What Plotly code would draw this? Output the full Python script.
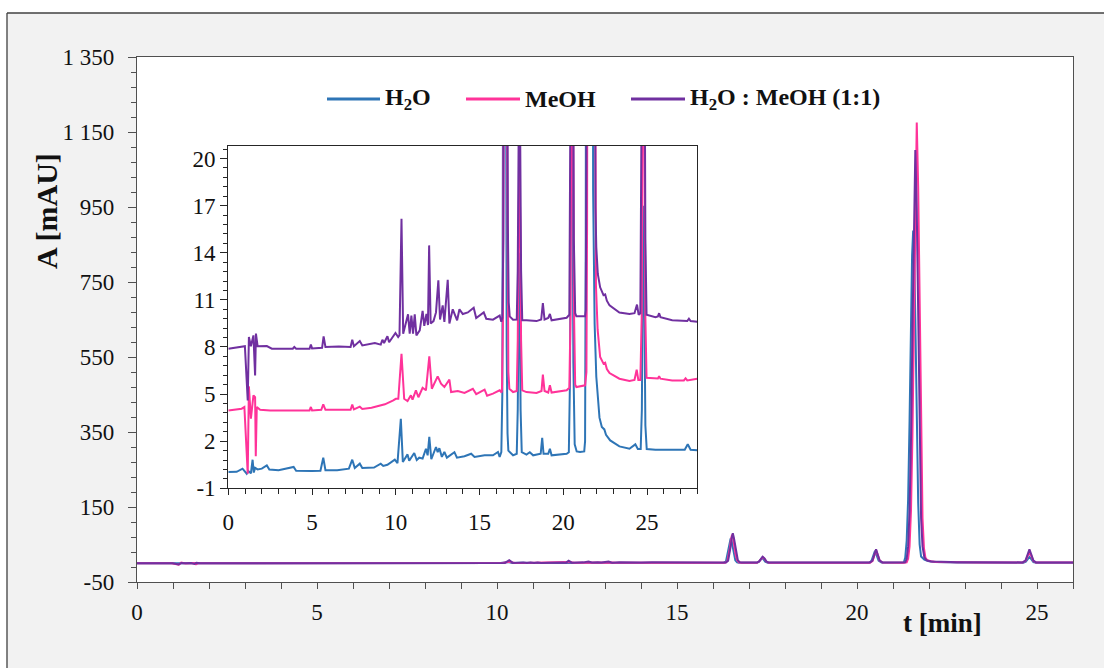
import plotly.graph_objects as go

# ---------------- data (t [min], A [mAU]) ----------------
h2o = [
    (0.0, 0.04), (0.5, 0.05), (0.85, 0.25), (0.95, 0.1), (1.1, -0.07), (1.2, 0.1), (1.35, -0.05),
    (1.45, 0.82), (1.52, 0.0), (1.6, 0.3), (1.75, 0.2), (2.0, 0.25), (2.3, 0.46), (2.45, 0.2),
    (3.0, 0.15), (3.9, 0.36), (4.05, 0.12), (5.0, 0.1), (5.5, 0.12), (5.67, 0.95), (5.8, 0.15),
    (6.5, 0.15), (7.2, 0.25), (7.4, 0.82), (7.55, 0.3), (7.85, 0.57), (8.0, 0.3), (8.7, 0.32),
    (9.1, 0.57), (9.25, 0.42), (9.5, 0.5), (9.94, 0.82), (10.1, 0.6), (10.3, 3.43), (10.42, 0.68),
    (10.7, 1.16), (10.8, 0.75), (11.1, 1.25), (11.25, 0.8), (11.4, 0.95), (11.6, 0.9), (11.8, 1.52),
    (11.9, 1.1), (12.0, 2.27), (12.12, 0.85), (12.4, 1.63), (12.5, 1.3), (12.6, 1.55), (12.75, 1.0),
    (12.9, 1.31), (13.05, 0.95), (13.5, 1.3), (13.65, 0.95), (14.1, 1.04), (14.5, 1.2), (14.7, 1.0),
    (15.3, 1.1), (15.8, 1.1), (16.1, 1.31), (16.2, 1.0),
    (16.30, 1.3), (16.36, 5.0), (16.39, 20.0), (16.43, 40.0), (16.46, 58.0), (16.49, 66.0),
    (16.52, 58.0), (16.55, 40.0), (16.59, 20.0), (16.62, 8.0), (16.67, 2.5), (16.72, 1.4),
    (17.0, 1.1), (17.22, 1.2), (17.28, 4.0), (17.33, 11.0), (17.36, 14.0), (17.40, 11.0),
    (17.45, 4.0), (17.52, 1.3), (17.8, 1.15), (18.0, 1.3), (18.2, 1.1), (18.65, 1.2), (18.74, 2.22),
    (18.82, 1.2), (19.1, 1.2), (19.2, 1.52), (19.3, 1.1), (20.2, 1.2),
    (20.33, 1.3), (20.4, 6.0), (20.45, 20.0), (20.5, 33.0), (20.55, 20.0), (20.6, 7.0), (20.68, 1.8),
    (20.8, 1.35), (21.0, 1.31), (21.25, 1.35),
    (21.30, 2.0), (21.34, 15.0), (21.38, 60.0), (21.42, 170.0), (21.46, 380.0), (21.50, 650.0),
    (21.53, 820.0), (21.56, 887.0), (21.59, 820.0), (21.62, 650.0), (21.66, 380.0), (21.70, 160.0),
    (21.74, 50.0), (21.78, 18.0), (21.87, 9.5), (21.97, 6.1), (22.16, 3.5), (22.3, 2.9),
    (22.45, 2.75), (22.55, 2.4), (22.8, 2.05), (23.35, 1.67), (23.95, 1.52), (24.3, 1.8),
    (24.45, 1.5), (24.62, 1.5), (24.69, 4.0), (24.74, 12.0), (24.79, 17.0), (24.84, 11.0),
    (24.9, 3.0), (24.98, 1.5), (25.5, 1.45), (26.5, 1.45), (27.25, 1.45), (27.43, 1.8),
    (27.6, 1.45), (28.0, 1.42),
]

meoh = [
    (0.0, 0.06), (0.8, 0.17), (0.96, 0.28), (1.16, -3.97), (1.23, 1.59), (1.35, -0.47), (1.5, 1.02),
    (1.6, 0.91), (1.64, -2.86), (1.7, 0.28), (1.9, 0.1), (2.5, 0.06), (3.5, 0.06), (4.85, 0.06),
    (4.93, 0.28), (5.0, 0.06), (5.55, 0.1), (5.67, 0.45), (5.8, 0.1), (6.6, 0.1), (7.3, 0.1),
    (7.4, 0.43), (7.5, 0.12), (7.85, 0.3), (8.0, 0.15), (8.55, 0.23), (9.35, 0.45), (9.85, 0.7),
    (10.0, 0.8), (10.15, 0.8), (10.34, 3.67), (10.5, 0.8), (10.7, 0.66), (10.9, 1.02), (11.0, 0.75),
    (11.2, 1.34), (11.35, 0.9), (11.6, 1.5), (11.8, 1.34), (12.0, 3.5), (12.15, 1.44), (12.5, 2.23),
    (12.7, 1.76), (12.9, 1.55), (13.2, 2.02), (13.3, 1.23), (13.7, 1.3), (14.1, 1.17), (14.6, 1.44),
    (14.8, 1.1), (15.3, 1.38), (15.45, 1.0), (15.8, 1.13), (16.2, 1.34), (16.32, 1.2),
    (16.34, 1.5), (16.40, 6.0), (16.44, 22.0), (16.48, 46.0), (16.50, 64.0), (16.53, 76.0),
    (16.56, 66.0), (16.59, 46.0), (16.63, 22.0), (16.67, 8.0), (16.72, 2.5), (16.78, 1.44),
    (17.0, 1.23), (17.22, 1.3), (17.28, 4.5), (17.33, 12.0), (17.38, 16.0), (17.43, 12.0),
    (17.48, 4.5), (17.55, 1.34), (17.8, 1.23), (18.4, 1.17), (18.7, 1.3), (18.78, 2.34),
    (18.88, 1.3), (19.1, 1.2), (19.2, 1.66), (19.3, 1.2), (20.2, 1.34),
    (20.36, 1.5), (20.43, 6.0), (20.48, 20.0), (20.53, 35.0), (20.58, 21.0), (20.63, 7.0),
    (20.71, 1.7), (20.78, 1.55), (21.3, 1.66),
    (21.38, 2.5), (21.42, 12.0), (21.46, 45.0), (21.50, 140.0), (21.54, 340.0), (21.58, 650.0),
    (21.62, 1000.0), (21.66, 1175.0), (21.70, 1000.0), (21.74, 650.0), (21.78, 320.0),
    (21.82, 120.0), (21.86, 40.0), (21.90, 15.0), (21.95, 8.0), (22.05, 5.2), (22.2, 3.46),
    (22.4, 3.04), (22.5, 3.1), (22.6, 2.7), (22.76, 2.44), (23.35, 2.08), (23.95, 1.93),
    (24.25, 2.0), (24.38, 2.65), (24.48, 2.0), (24.6, 2.0), (24.68, 6.0), (24.74, 20.0),
    (24.79, 30.0), (24.84, 20.0), (24.9, 6.0), (24.97, 2.14), (25.5, 2.1), (25.65, 2.1),
    (25.72, 2.23), (25.8, 2.08), (26.5, 1.97), (27.2, 1.97), (27.3, 2.1), (27.4, 1.97), (28.0, 2.08),
]

mix = [
    (0.0, 0.04), (0.8, 0.15), (0.99, 0.2), (1.16, -3.25), (1.23, 0.78), (1.35, 0.2), (1.5, 0.89),
    (1.6, -1.66), (1.65, 1.0), (1.75, 0.2), (2.0, 0.2), (2.3, 0.21), (2.6, 0.04), (3.85, 0.04),
    (3.94, 0.15), (4.05, 0.04), (4.85, 0.04), (4.93, 0.3), (5.0, 0.06), (5.6, 0.1), (5.69, 0.83),
    (5.8, 0.15), (6.6, 0.18), (7.3, 0.15), (7.4, 0.61), (7.5, 0.2), (7.85, 0.53), (8.0, 0.25),
    (8.75, 0.4), (9.1, 0.3), (9.2, 0.61), (9.3, 0.4), (9.5, 0.83), (9.6, 0.45), (9.98, 1.04),
    (10.14, 0.78), (10.22, 0.9), (10.34, 8.32), (10.44, 1.0), (10.73, 2.23), (10.83, 1.0),
    (10.93, 2.15), (11.03, 1.0), (11.13, 2.23), (11.23, 0.89), (11.43, 1.21), (11.6, 2.45),
    (11.7, 1.5), (11.83, 2.25), (11.92, 1.55), (11.99, 6.62), (12.08, 1.65), (12.25, 1.8),
    (12.4, 2.35), (12.54, 4.39), (12.64, 1.9), (12.8, 2.8), (12.9, 1.75), (13.1, 4.43), (13.2, 1.65),
    (13.4, 2.55), (13.66, 1.85), (13.8, 2.55), (14.0, 2.25), (14.3, 2.35), (14.65, 2.65), (14.8, 2.0),
    (15.25, 2.35), (15.4, 1.95), (15.8, 1.89), (16.2, 2.15), (16.3, 1.75),
    (16.36, 2.0), (16.42, 7.0), (16.46, 24.0), (16.50, 50.0), (16.52, 68.0), (16.55, 80.0),
    (16.58, 68.0), (16.61, 48.0), (16.65, 22.0), (16.69, 8.0), (16.74, 3.0), (16.8, 2.1),
    (17.0, 1.89), (17.22, 1.9), (17.28, 5.0), (17.33, 13.0), (17.38, 17.3), (17.43, 13.0),
    (17.48, 5.0), (17.55, 1.85), (17.8, 1.85), (18.4, 1.8), (18.68, 1.9), (18.78, 2.95),
    (18.88, 1.9), (19.1, 2.0), (19.2, 2.25), (19.3, 1.85), (20.2, 2.01),
    (20.36, 2.2), (20.43, 7.0), (20.48, 22.0), (20.53, 37.0), (20.58, 22.0), (20.63, 7.0),
    (20.71, 2.3), (20.78, 2.1), (21.3, 2.1),
    (21.34, 2.5), (21.38, 12.0), (21.42, 45.0), (21.46, 140.0), (21.50, 330.0), (21.54, 620.0),
    (21.58, 940.0), (21.62, 1102.0), (21.66, 940.0), (21.70, 620.0), (21.74, 310.0),
    (21.78, 120.0), (21.82, 45.0), (21.87, 16.0), (21.92, 9.0), (21.97, 6.5), (22.06, 4.8),
    (22.2, 3.95), (22.4, 3.45), (22.5, 3.5), (22.6, 3.1), (22.76, 2.8), (23.35, 2.35),
    (23.95, 2.25), (24.25, 2.3), (24.4, 2.85), (24.5, 2.2), (24.6, 2.3), (24.68, 7.0),
    (24.74, 24.0), (24.79, 37.0), (24.84, 24.0), (24.9, 7.0), (24.97, 2.2), (25.5, 2.05),
    (25.65, 2.1), (25.72, 2.3), (25.8, 2.05), (26.5, 1.85), (27.4, 1.8), (27.5, 1.95),
    (27.6, 1.8), (28.0, 1.75),
]

series = [h2o, meoh, mix]
series_names = ["H<sub>2</sub>O", "MeOH", "H<sub>2</sub>O : MeOH (1:1)"]
inset_offsets = [0.0, 3.9, 7.85]          # vertical stacking used in the inset
colors = ["#2E75B6", "#FF3399", "#7030A0"]

main_y_vals = [-50, 150, 350, 550, 750, 950, 1150, 1350]
main_y_text = ["-50", "150", "350", "550", "750", "950", "1 150", "1 350"]
inset_y_vals = [-1, 2, 5, 8, 11, 14, 17, 20]
inset_y_text = ["-1", "2", "5", "8", "11", "14", "17", "20"]

# ---------------- layout geometry (pixels) ----------------
W, H = 1104, 668
L, R, T, B = 137, 1073, 57, 582
PW, PH = R - L, B - T


def px(x):
    return (x - L) / PW


def py(y):
    return (B - y) / PH


FONT = "Liberation Serif, Times New Roman, serif"
TXT = "#111111"
TICK_SIZE = 23

fig = go.Figure()

for data, name, col in zip(series, series_names, colors):
    t = [p[0] for p in data]
    a = [p[1] for p in data]
    fig.add_trace(go.Scatter(x=t, y=a, mode="lines", name=name, showlegend=False,
                             line=dict(color=col, width=2), xaxis="x", yaxis="y",
                             hoverinfo="skip"))

for data, name, col, off in zip(series, series_names, colors, inset_offsets):
    t = [p[0] for p in data]
    a = [p[1] + off for p in data]
    fig.add_trace(go.Scatter(x=t, y=a, mode="lines", name=name, showlegend=False,
                             line=dict(color=col, width=2), xaxis="x2", yaxis="y2",
                             hoverinfo="skip"))

main_ax = "#505050"
inset_ax = "#262626"

fig.update_layout(
    width=W, height=H, autosize=False,
    margin=dict(l=L, r=W - R, t=T, b=H - B, pad=0),
    paper_bgcolor="#f2f2f2", plot_bgcolor="white",
    font=dict(family=FONT, size=TICK_SIZE, color=TXT),
    showlegend=False,
    xaxis=dict(domain=[0, 1], range=[0, 26], tickmode="linear", tick0=0, dtick=5,
               ticks="outside", ticklen=6, tickwidth=1.3, tickcolor=main_ax,
               showline=True, linecolor=main_ax, linewidth=1.3, mirror=True,
               showgrid=False, zeroline=False, ticklabelstandoff=3,
               tickfont=dict(family=FONT, size=TICK_SIZE, color=TXT),
               minor=dict(tickmode="linear", tick0=0, dtick=1, ticks="outside", ticklen=6,
                          tickwidth=1.3, tickcolor=main_ax, showgrid=False)),
    yaxis=dict(domain=[0, 1], range=[-50, 1350], tickmode="array", tickvals=main_y_vals,
               ticktext=main_y_text, ticks="outside", ticklen=8, tickwidth=1.3,
               tickcolor=main_ax, showline=True, linecolor=main_ax, linewidth=1.3,
               mirror=True, showgrid=False, zeroline=False, ticklabelstandoff=9,
               tickfont=dict(family=FONT, size=TICK_SIZE, color=TXT),
               minor=dict(tickmode="linear", tick0=-50, dtick=40, ticks="outside", ticklen=5,
                          tickwidth=1.3, tickcolor=main_ax, showgrid=False)),
    xaxis2=dict(domain=[px(228.3), px(697.3)], anchor="y2", range=[0, 28],
                tickmode="linear", tick0=0, dtick=5, ticks="outside", ticklen=6,
                tickwidth=1.3, tickcolor=inset_ax, showline=True, linecolor=inset_ax,
                linewidth=1.3, mirror=True, showgrid=False, zeroline=False,
                ticklabelstandoff=7, tickfont=dict(family=FONT, size=TICK_SIZE, color=TXT),
                minor=dict(tickmode="linear", tick0=0, dtick=1, ticks="outside", ticklen=5,
                           tickwidth=1.3, tickcolor=inset_ax, showgrid=False)),
    yaxis2=dict(domain=[py(488.3), py(146)], anchor="x2", range=[-1, 20.8],
                tickmode="array", tickvals=inset_y_vals, ticktext=inset_y_text,
                ticks="outside", ticklen=7, tickwidth=1.3, tickcolor=inset_ax,
                showline=True, linecolor=inset_ax, linewidth=1.3, mirror=True,
                showgrid=False, zeroline=False, ticklabelstandoff=0,
                tickfont=dict(family=FONT, size=TICK_SIZE, color=TXT),
                minor=dict(tickmode="linear", tick0=-1, dtick=0.6, ticks="outside", ticklen=4,
                           tickwidth=1.3, tickcolor=inset_ax, showgrid=False)),
)

shapes = []
# white outside the outer frame + frame border
shapes.append(dict(type="rect", xref="paper", yref="paper", x0=px(-5), x1=px(W + 5),
                   y0=py(13), y1=py(-5), fillcolor="white", line=dict(width=0), layer="above"))
shapes.append(dict(type="rect", xref="paper", yref="paper", x0=px(-5), x1=px(7),
                   y0=py(H + 5), y1=py(-5), fillcolor="white", line=dict(width=0), layer="above"))
shapes.append(dict(type="line", xref="paper", yref="paper", x0=px(7), x1=px(W + 5),
                   y0=py(13), y1=py(13), line=dict(color="#404040", width=1.3), layer="above"))
shapes.append(dict(type="line", xref="paper", yref="paper", x0=px(7), x1=px(7),
                   y0=py(13), y1=py(H + 5), line=dict(color="#404040", width=1.3), layer="above"))

# custom legend
legend_line_x = [(327, 380), (466, 520), (631, 685)]
legend_y = 99
annotations = []
for (x0, x1), name, col in zip(legend_line_x, series_names, colors):
    shapes.append(dict(type="line", xref="paper", yref="paper", x0=px(x0), x1=px(x1),
                       y0=py(legend_y), y1=py(legend_y), line=dict(color=col, width=3),
                       layer="above"))
    annotations.append(dict(xref="paper", yref="paper", x=px(x1 + 3), y=py(legend_y),
                            xanchor="left", yanchor="middle", showarrow=False,
                            text="<b>" + name + "</b>",
                            font=dict(family=FONT, size=24, color=TXT)))

annotations.append(dict(xref="paper", yref="paper", x=px(46), y=py(211), xanchor="center",
                        yanchor="middle", showarrow=False, textangle=-90,
                        text="<b>A [mAU]</b>", font=dict(family=FONT, size=30, color=TXT)))
annotations.append(dict(xref="paper", yref="paper", x=px(942), y=py(623), xanchor="center",
                        yanchor="middle", showarrow=False,
                        text="<b>t [min]</b>", font=dict(family=FONT, size=27, color=TXT)))

fig.update_layout(shapes=shapes, annotations=annotations)

fig.write_html("out.html", config={"displayModeBar": False})
